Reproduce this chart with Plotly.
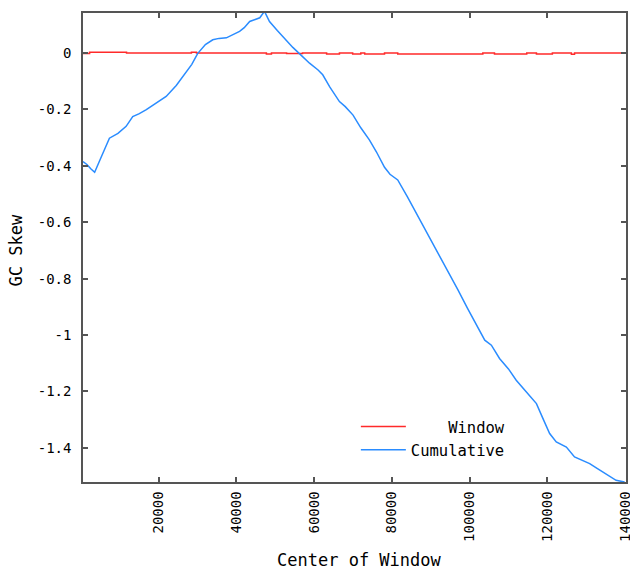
import plotly.graph_objects as go

# ---- data ----
cum_x = [500, 1500, 2500, 3500, 5000, 7300, 9500, 11600, 13300, 15000, 16800, 19000,
         21900, 24500, 27100, 28500, 30000, 32000, 33900, 35500, 37400, 39000, 40800,
         42000, 43400, 45000, 46000, 47200, 48500, 50500, 52800, 54500, 56200, 58800,
         61000, 62200, 64000, 66500, 68000, 70000, 72000, 74200, 76000, 78100, 79500,
         81500, 84000, 86300, 89000, 91400, 94000, 97000, 99500, 102000, 103900, 105600,
         107700, 110000, 112000, 114500, 117200, 119000, 120600, 122300, 124900, 127000,
         129000, 130900, 132500, 134300, 136000, 137700, 139900]
cum_y = [-0.385, -0.395, -0.41, -0.423, -0.375, -0.302, -0.285, -0.26, -0.225, -0.215,
         -0.201, -0.18, -0.154, -0.115, -0.065, -0.04, -0.002, 0.03, 0.047, 0.052, 0.054,
         0.065, 0.077, 0.09, 0.112, 0.12, 0.125, 0.148, 0.112, 0.08, 0.045, 0.02, -0.002,
         -0.036, -0.06, -0.077, -0.12, -0.172, -0.19, -0.22, -0.265, -0.308, -0.35,
         -0.405, -0.43, -0.45, -0.51, -0.568, -0.635, -0.699, -0.765, -0.84, -0.906,
         -0.97, -1.018, -1.036, -1.083, -1.12, -1.16, -1.2, -1.243, -1.3, -1.349, -1.379,
         -1.397, -1.432, -1.445, -1.456, -1.47, -1.486, -1.5, -1.515, -1.521]

window_x = [500, 2200, 11700, 28400, 29700, 47700, 49000, 52900, 57000, 63200, 66500,
            69900, 72000, 73000, 78100, 81500, 103400, 106400, 114700, 117200, 121300,
            126200, 127000, 140250]
window_y = [-0.002, 0.003, 0.0, 0.003, 0.0, -0.003, 0.0, -0.002, 0.0, -0.003, 0.0,
            -0.003, 0.0, -0.003, 0.0, -0.003, 0.0, -0.003, 0.0, -0.003, 0.0, -0.004,
            0.0, 0.0]

x_ticks = [20000, 40000, 60000, 80000, 100000, 120000, 140000]
x_tick_labels = ["20000", "40000", "60000", "80000", "100000", "120000", "140000"]
y_ticks = [0, -0.2, -0.4, -0.6, -0.8, -1, -1.2, -1.4]
y_tick_labels = ["0", "-0.2", "-0.4", "-0.6", "-0.8", "-1", "-1.2", "-1.4"]

FONT = "DejaVu Sans Mono"
NB = "\u00a0"

fig = go.Figure()
fig.add_trace(go.Scatter(x=window_x, y=window_y, mode="lines", line_shape="hv",
                         name=NB * 4 + "Window",
                         line=dict(color="#ff2a2a", width=1.5)))
fig.add_trace(go.Scatter(x=cum_x, y=cum_y, mode="lines", name="Cumulative",
                         line=dict(color="#2a8cff", width=1.5)))

axis_common = dict(showline=True, linecolor="#555555", linewidth=1.5, mirror="ticks",
                   ticks="inside", ticklen=5, tickcolor="#555555", tickwidth=1.5,
                   showgrid=False, zeroline=False, ticklabeloverflow="allow",
                   automargin=False,
                   tickfont=dict(family=FONT, size=14, color="black"))

fig.update_xaxes(range=[500, 140250], tickvals=x_ticks, ticktext=x_tick_labels,
                 tickangle=-90, ticklabelstandoff=2, **axis_common)
fig.update_yaxes(range=[-1.521, 0.142], tickvals=y_ticks, ticktext=y_tick_labels,
                 ticklabelstandoff=7, **axis_common)

fig.update_layout(
    width=630, height=570,
    margin=dict(l=83, r=4, t=13, b=88, autoexpand=False),
    plot_bgcolor="white", paper_bgcolor="white",
    font=dict(family=FONT, size=14, color="black"),
    legend=dict(x=0.5025, y=0.1535, xanchor="left", yanchor="top", itemwidth=45,
                bgcolor="rgba(0,0,0,0)", font=dict(family=FONT, size=15.5),
                tracegroupgap=0),
    annotations=[
        dict(text="Center of Window", xref="paper", yref="paper", x=0.5097, y=-0.1663,
             showarrow=False, font=dict(family=FONT, size=17), xanchor="center",
             yanchor="middle"),
        dict(text="GC Skew", xref="paper", yref="paper", x=-0.1226, y=0.4947,
             showarrow=False, textangle=-90, font=dict(family=FONT, size=17),
             xanchor="center", yanchor="middle"),
    ],
)

fig.write_html("out.html", config={"displayModeBar": False},
               post_script="document.body.style.margin='0';"
                           "document.body.style.overflow='hidden';")
